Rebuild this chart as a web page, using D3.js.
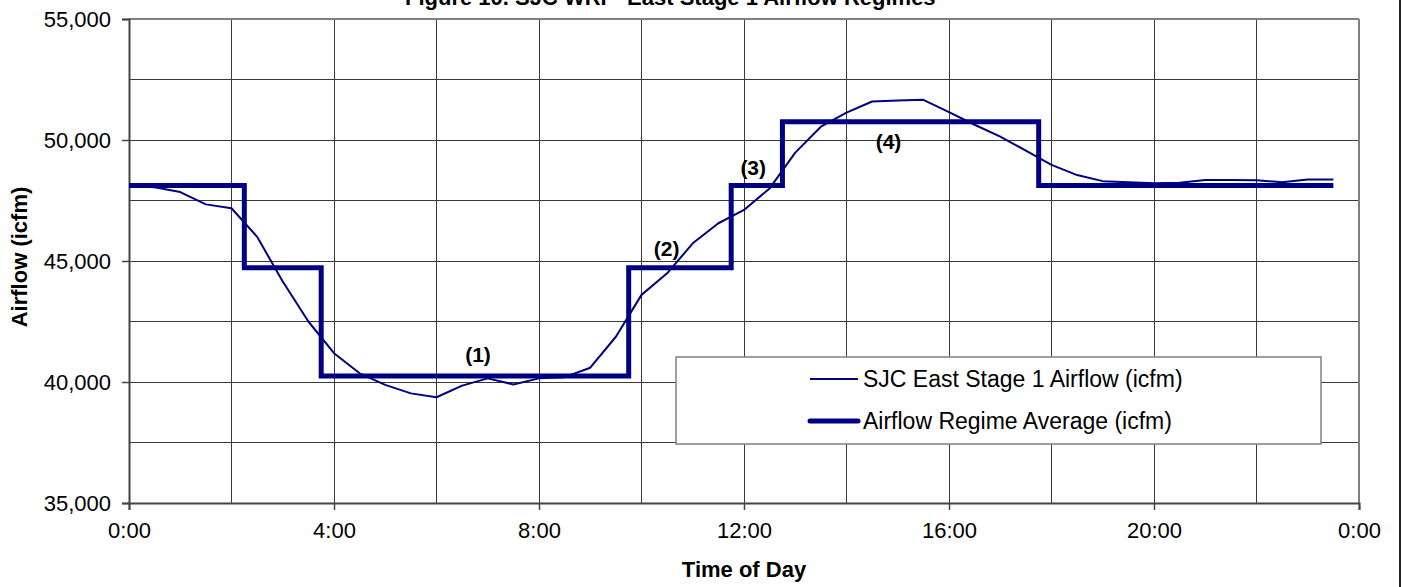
<!DOCTYPE html>
<html>
<head>
<meta charset="utf-8">
<script src="https://cdn.jsdelivr.net/npm/d3@7"></script>
<style>
  html, body { margin: 0; padding: 0; background: #fff; }
  svg { display: block; font-family: "Liberation Sans", Arial, sans-serif; }
</style>
</head>
<body>
<svg id="chart" width="1402" height="587"></svg>
<script>
// ---- Data ----
const hours = [0,0.5,1,1.5,2,2.5,3,3.5,4,4.5,5,5.5,6,6.5,7,7.5,8,8.5,9,9.5,10,10.5,11,11.5,
               12,12.5,13,13.5,14,14.5,15,15.5,16,16.5,17,17.5,18,18.5,19,19.5,20,20.5,21,21.5,22,22.5,23,23.5];
const airflow = [48100,48050,47850,47340,47180,46000,44150,42500,41190,40360,39880,39530,39370,39850,40150,39900,
                 40150,40200,40590,41870,43600,44490,45730,46560,47110,48000,49480,50550,51130,51590,51630,51660,
                 51150,50630,50140,49560,48970,48550,48300,48250,48210,48230,48350,48350,48340,48250,48370,48370];
const regimeStart = [0, 2.25, 3.75, 9.75, 11.75, 12.75, 17.75, 23.5];
const regimeLevel = [48120, 44720, 40250, 44720, 48120, 50750, 48120, 48120];
const regimeLabels = ["(1)", "(2)", "(3)", "(4)"];
const labelHour = [6.81, 10.49, 12.18, 14.82];
const labelValue = [40806, 45227, 48554, 49628];
const xTicks = [0, 4, 8, 12, 16, 20, 24];
const xGrid = [2, 4, 6, 8, 10, 12, 14, 16, 18, 20, 22];
const yTicks = [35000, 40000, 45000, 50000, 55000];
const yGrid = [37500, 40000, 42500, 45000, 47500, 50000, 52500];
const seriesNames = ["SJC East Stage 1 Airflow (icfm)", "Airflow Regime Average (icfm)"];
const titleText = "Figure 10. SJC WRP  East Stage 1 Airflow Regimes";

// ---- Layout ----
const L = 129, R = 1359, T = 19, B = 503;
const navy = "#000080";
const svg = d3.select("#chart");

const x = d3.scaleLinear().domain([0, 24]).range([L, R]);
const y = d3.scaleLinear().domain([35000, 55000]).range([B, T]);

// gridlines
svg.append("g").selectAll("line").data(yGrid).join("line")
  .attr("x1", L).attr("x2", R).attr("y1", d => y(d)).attr("y2", d => y(d))
  .attr("stroke", "#3a3a3a").attr("stroke-width", 1).attr("shape-rendering", "crispEdges");
svg.append("g").selectAll("line").data(xGrid).join("line")
  .attr("y1", T).attr("y2", B).attr("x1", d => x(d)).attr("x2", d => x(d))
  .attr("stroke", "#3a3a3a").attr("stroke-width", 1).attr("shape-rendering", "crispEdges");

// plot border (top/right gray)
svg.append("line").attr("x1", L).attr("x2", R).attr("y1", T).attr("y2", T)
  .attr("stroke", "#808080").attr("stroke-width", 2);
svg.append("line").attr("x1", R).attr("x2", R).attr("y1", T).attr("y2", B)
  .attr("stroke", "#808080").attr("stroke-width", 2);

// axes
const xAxis = d3.axisBottom(x).tickValues(xTicks).tickSize(7).tickPadding(12)
  .tickFormat(d => (d % 24) + ":00");
const gx = svg.append("g").attr("transform", `translate(0,${B})`).call(xAxis);
gx.select(".domain").attr("stroke", "#444").attr("stroke-width", 2);
gx.selectAll(".tick line").attr("stroke", "#444").attr("stroke-width", 1.5);
gx.selectAll(".tick text").attr("font-size", 22).attr("fill", "#000")
  .attr("font-family", "Liberation Sans, Arial, sans-serif");

const yAxis = d3.axisLeft(y).tickValues(yTicks).tickSize(7).tickPadding(11)
  .tickFormat(d3.format(","));
const gy = svg.append("g").attr("transform", `translate(${L},0)`).call(yAxis);
gy.select(".domain").attr("stroke", "#444").attr("stroke-width", 2);
gy.selectAll(".tick line").attr("stroke", "#444").attr("stroke-width", 1.5);
gy.selectAll(".tick text").attr("font-size", 22).attr("fill", "#000")
  .attr("font-family", "Liberation Sans, Arial, sans-serif");

// series: thin airflow line
const line = d3.line().x((d, i) => x(hours[i])).y(d => y(d));
svg.append("path").datum(airflow).attr("d", line)
  .attr("fill", "none").attr("stroke", navy).attr("stroke-width", 2).attr("stroke-linejoin", "round");

// regime step line
const stepLine = d3.line().curve(d3.curveStepAfter)
  .x((d, i) => x(regimeStart[i])).y(d => y(d));
svg.append("path").datum(regimeLevel).attr("d", stepLine)
  .attr("fill", "none").attr("stroke", navy).attr("stroke-width", 5).attr("stroke-linejoin", "miter");

// regime labels
svg.append("g").selectAll("text").data(regimeLabels).join("text")
  .attr("x", (d, i) => x(labelHour[i])).attr("y", (d, i) => y(labelValue[i]))
  .attr("text-anchor", "middle").attr("font-size", 21).attr("font-weight", "bold").text(d => d);

// legend
const lg = svg.append("g");
lg.append("rect").attr("x", 676).attr("y", 357).attr("width", 645).attr("height", 87)
  .attr("fill", "#fff").attr("stroke", "#808080").attr("stroke-width", 1.5);
const legendW = [2, 5];
const legendY = [379, 421];
seriesNames.forEach((name, i) => {
  lg.append("line").attr("x1", 810).attr("x2", 858).attr("y1", legendY[i]).attr("y2", legendY[i])
    .attr("stroke", navy).attr("stroke-width", legendW[i]).attr("stroke-linecap", i ? "round" : "butt");
  lg.append("text").attr("x", 863).attr("y", legendY[i] + 8).attr("font-size", 23).text(name);
});

// titles
svg.append("text").attr("x", 405).attr("y", 5).attr("font-size", 22).attr("font-weight", "bold")
  .style("white-space", "pre").text(titleText);
svg.append("text").attr("x", (L + R) / 2).attr("y", 577).attr("text-anchor", "middle")
  .attr("font-size", 22).attr("font-weight", "bold").text("Time of Day");
svg.append("text").attr("transform", `translate(27,${(T + B) / 2 - 4}) rotate(-90)`)
  .attr("text-anchor", "middle").attr("font-size", 22).attr("font-weight", "bold").text("Airflow (icfm)");

// outer chart border (right edge)
svg.append("line").attr("x1", 1400).attr("x2", 1400).attr("y1", 0).attr("y2", 587)
  .attr("stroke", "#222").attr("stroke-width", 2);
</script>
</body>
</html>
